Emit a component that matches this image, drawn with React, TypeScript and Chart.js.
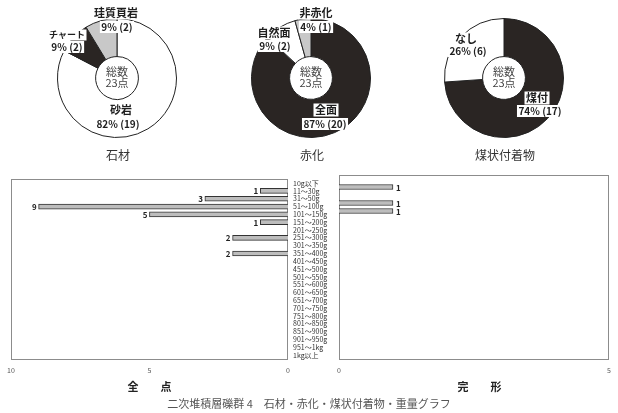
import React, { useEffect, useRef } from 'react';
import { Chart, registerables } from 'chart.js';

Chart.register(...registerables);
Chart.defaults.font.family = '"Noto Sans CJK JP", "Noto Sans", sans-serif';

// ---------- data ----------
const totalLines = ['総数', '23点'];
const donutTitles = ['石材', '赤化', '煤状付着物'];

const stoneNames = ['砂岩', 'チャート', '珪質頁岩'];
const stoneCounts = [19, 2, 2];
const stonePercents = [82, 9, 9];

const heatNames = ['全面', '自然面', '非赤化'];
const heatCounts = [20, 2, 1];
const heatPercents = [87, 9, 4];

const sootNames = ['煤付', 'なし'];
const sootCounts = [17, 6];
const sootPercents = [74, 26];

const weightCategories = [
  '10g以下', '11〜30g', '31〜50g', '51〜100g', '101〜150g', '151〜200g',
  '201〜250g', '251〜300g', '301〜350g', '351〜400g', '401〜450g', '451〜500g',
  '501〜550g', '551〜600g', '601〜650g', '651〜700g', '701〜750g', '751〜800g',
  '801〜850g', '851〜900g', '901〜950g', '951〜1kg', '1kg以上',
];
const allPieces = [0, 1, 3, 9, 5, 1, 0, 2, 0, 2, 0, 0, 0, 0, 0, 0, 0, 0, 0, 0, 0, 0, 0];
const completePieces = [0, 1, 0, 1, 1, 0, 0, 0, 0, 0, 0, 0, 0, 0, 0, 0, 0, 0, 0, 0, 0, 0, 0];
const allAxisMax = 10;
const completeAxisMax = 5;
const axisStep = 5;
const barAxisTitles = ['全　　点', '完　　形'];
const caption = '二次堆積層礫群 4　石材・赤化・煤状付着物・重量グラフ';

// ---------- styles ----------
const DARK = '#2a2523';
const GREY = '#c8c8c8';
const WHITE = '#ffffff';

// label offsets relative to donut centre: [nameDx, nameDy, nameSize, pctDx, pctDy, pctSize]
const stoneLabelPos = [
  [4, 32, 11, 1, 46, 10],
  [-50, -43, 9, -50, -31, 10],
  [-1, -65, 11, 0, -51, 10],
];
const heatLabelPos = [
  [15, 32, 11, 14, 46, 10],
  [-37, -45, 11, -36, -32, 10],
  [5, -65, 11, 5, -51, 10],
];
const sootLabelPos = [
  [33, 20, 11, 36, 33, 10],
  [-38, -39, 11, -36, -27, 10],
];

function boxedText(ctx: CanvasRenderingContext2D, text: string, x: number, y: number, size: number) {
  ctx.font = `bold ${size}px "Noto Sans CJK JP", sans-serif`;
  const w = ctx.measureText(text).width;
  const h = size + 2;
  ctx.fillStyle = '#fff';
  ctx.fillRect(x - w / 2 - 1.5, y - h / 2, w + 3, h);
  ctx.fillStyle = '#1e1e1e';
  ctx.textAlign = 'center';
  ctx.textBaseline = 'middle';
  ctx.fillText(text, x, y);
}

function donutConfig(names: string[], counts: number[], percents: number[], colors: string[], title: string, pos: number[][]): any {
  return {
    type: 'doughnut',
    data: {
      labels: names,
      datasets: [{ data: counts, backgroundColor: colors, borderColor: '#222', borderWidth: 1 }],
    },
    options: {
      responsive: false,
      animation: false,
      devicePixelRatio: 1,
      events: [],
      cutout: '36%',
      rotation: 0,
      layout: { padding: { top: 18, bottom: 27, left: 43, right: 43 } },
      plugins: { legend: { display: false }, tooltip: { enabled: false } },
    },
    plugins: [{
      id: 'donutText',
      afterDraw(chart: any) {
        const ctx: CanvasRenderingContext2D = chart.ctx;
        const arc = chart.getDatasetMeta(0).data[0];
        const cx = arc.x, cy = arc.y;
        ctx.save();
        ctx.textAlign = 'center';
        ctx.textBaseline = 'middle';
        ctx.fillStyle = '#444';
        ctx.font = '11px "Noto Sans CJK JP", sans-serif';
        ctx.fillText(totalLines[0], cx, cy - 6);
        ctx.fillText(totalLines[1], cx, cy + 5);
        names.forEach((n, i) => {
          const p = pos[i];
          boxedText(ctx, n, cx + p[0], cy + p[1], p[2]);
          boxedText(ctx, `${percents[i]}% (${counts[i]})`, cx + p[3], cy + p[4], p[5]);
        });
        ctx.fillStyle = '#333';
        ctx.font = '12px "Noto Sans CJK JP", sans-serif';
        ctx.textAlign = 'center';
        ctx.textBaseline = 'middle';
        ctx.fillText(title, cx + 1, cy + 77);
        ctx.restore();
      },
    }],
  };
}

const framePlugin = {
  id: 'frame',
  beforeDatasetsDraw(chart: any) {
    const { left, top, right, bottom } = chart.chartArea;
    const ctx: CanvasRenderingContext2D = chart.ctx;
    ctx.save();
    ctx.strokeStyle = '#8c8c8c';
    ctx.lineWidth = 1;
    ctx.strokeRect(Math.round(left) + 0.5, Math.round(top) + 0.5, Math.round(right - left) - 1, Math.round(bottom - top));
    ctx.restore();
  },
};

function valuePlugin(side: 'left' | 'right') {
  return {
    id: 'values',
    afterDatasetsDraw(chart: any) {
      const ctx: CanvasRenderingContext2D = chart.ctx;
      const meta = chart.getDatasetMeta(0);
      const data = chart.data.datasets[0].data as number[];
      ctx.save();
      ctx.font = 'bold 8px "Noto Sans CJK JP", sans-serif';
      ctx.fillStyle = '#222';
      ctx.textBaseline = 'middle';
      meta.data.forEach((el: any, i: number) => {
        if (!data[i]) return;
        if (side === 'left') {
          ctx.textAlign = 'right';
          ctx.fillText(String(data[i]), el.x - 2, el.y + 0.5);
        } else {
          ctx.textAlign = 'left';
          ctx.fillText(String(data[i]), el.x + 3, el.y + 0.5);
        }
      });
      ctx.restore();
    },
  };
}

function barConfig(values: number[], max: number, reverse: boolean, title: string, showY: boolean, padding: any, side: 'left' | 'right'): any {
  return {
    type: 'bar',
    data: {
      labels: weightCategories,
      datasets: [{
        data: values,
        backgroundColor: '#bdbdbd',
        borderColor: '#333',
        borderWidth: 1,
        barThickness: 5,
      }],
    },
    options: {
      indexAxis: 'y',
      responsive: false,
      animation: false,
      devicePixelRatio: 1,
      events: [],
      layout: { padding },
      plugins: { legend: { display: false }, tooltip: { enabled: false } },
      scales: {
        x: {
          reverse,
          min: 0,
          max,
          ticks: { stepSize: axisStep, font: { size: 7 }, color: '#555', padding: 7, maxRotation: 0 },
          grid: { display: false, drawTicks: false },
          border: { display: false },
          title: {
            display: true, text: title, color: '#222',
            font: { size: 11, weight: 'bold' }, padding: { top: 0, bottom: 7 },
          },
          afterFit: (s: any) => { s.height = 41; },
        },
        y: {
          display: showY,
          position: 'right',
          ticks: { autoSkip: false, font: { size: 7 }, color: '#333', padding: 5, crossAlign: 'near' },
          grid: { display: false, drawTicks: false },
          border: { display: false },
          afterFit: (s: any) => { s.width = showY ? 49 : 0; },
        },
      },
    },
    plugins: [framePlugin, valuePlugin(side)],
  };
}

function ChartCanvas({ make, left, top, width, height }: { make: () => any; left: number; top: number; width: number; height: number }) {
  const ref = useRef<HTMLCanvasElement>(null);
  useEffect(() => {
    const chart = new Chart(ref.current as HTMLCanvasElement, make());
    return () => chart.destroy();
  }, []);
  return (
    <canvas
      ref={ref}
      width={width}
      height={height}
      style={{ position: 'absolute', left, top, width, height }}
    />
  );
}

export default function App() {
  return (
    <div style={{ position: 'absolute', left: 0, top: 0, width: 618, height: 413, background: '#fff', overflow: 'hidden' }}>
      <ChartCanvas left={117 - 103} top={0} width={206} height={165}
        make={() => donutConfig(stoneNames, stoneCounts, stonePercents, [WHITE, DARK, GREY], donutTitles[0], stoneLabelPos)} />
      <ChartCanvas left={311 - 103} top={0} width={206} height={165}
        make={() => donutConfig(heatNames, heatCounts, heatPercents, [DARK, WHITE, GREY], donutTitles[1], heatLabelPos)} />
      <ChartCanvas left={504 - 103} top={0} width={206} height={165}
        make={() => donutConfig(sootNames, sootCounts, sootPercents, [DARK, WHITE], donutTitles[2], sootLabelPos)} />
      <ChartCanvas left={0} top={170} width={337} height={230}
        make={() => barConfig(allPieces, allAxisMax, true, barAxisTitles[0], true, { left: 8, top: 5, right: 0, bottom: 0 }, 'left')} />
      <ChartCanvas left={330} top={170} width={288} height={230}
        make={() => barConfig(completePieces, completeAxisMax, false, '　' + barAxisTitles[1], false, { left: 7, top: 5, right: 6, bottom: 0 }, 'right')} />
      <div style={{
        position: 'absolute', left: 0, top: 396, width: 618, textAlign: 'center',
        fontFamily: '"Noto Sans CJK JP", sans-serif', fontSize: 11, color: '#555', lineHeight: '14px',
      }}>{caption}</div>
    </div>
  );
}
